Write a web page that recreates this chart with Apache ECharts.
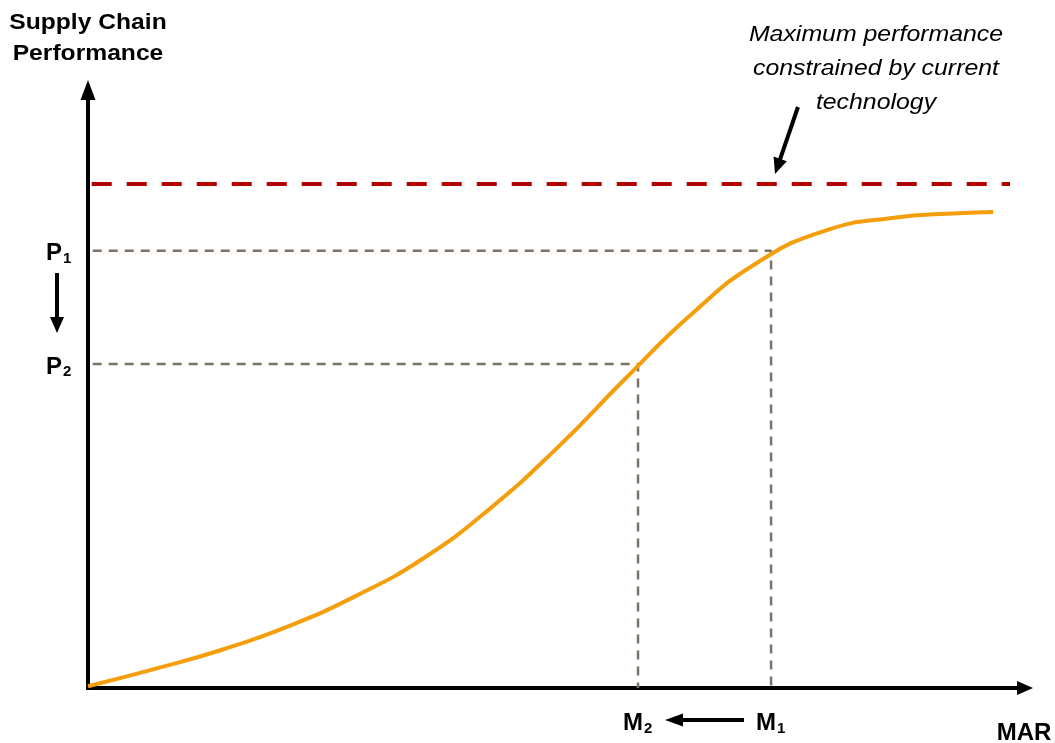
<!DOCTYPE html>
<html>
<head>
<meta charset="utf-8">
<script src="https://cdn.jsdelivr.net/npm/echarts@6/dist/echarts.min.js"></script>
<style>
html,body{margin:0;padding:0;background:#fff;}
#main{width:1055px;height:743px;}
</style>
</head>
<body>
<div id="main"></div>
<script>
// ---- data ----
const curveX = [0, 7.15, 14.3, 21.5, 28.6, 35.8, 42.9, 50.1, 57.2, 64.4, 71.5, 78.7, 85.8, 92.9, 96.6];
const curveY = [0.3, 3.2, 6.4, 10.4, 15.4, 21.7, 30.0, 40.2, 51.5, 62.5, 71.2, 76.5, 78.6, 79.4, 79.6];
const techMaxLevel = 84.3;
const techMaxRange = [0.4, 98.4];
const pLevels = [73.1, 54.2];      // P1, P2
const mLevels = [72.9, 58.7];      // M1, M2
const pNames = ['P', 'P'];
const mNames = ['M', 'M'];
const subs = ['1', '2'];
const yAxisTitle = ['Supply Chain', 'Performance'];
const xAxisTitle = 'MAR';
const noteText = ['Maximum performance', 'constrained by current', 'technology'];

const FONT = '"Liberation Sans", Arial, sans-serif';
const chart = echarts.init(document.getElementById('main'));

const guideStyle = {color: '#7d7366', width: 2.5, type: [9, 7]};
const guideSeries = [];
for (let i = 0; i < pLevels.length; i++) {
  guideSeries.push({
    type: 'line', symbol: 'none', silent: true, z: 1,
    lineStyle: guideStyle,
    data: [[0.5, pLevels[i]], [mLevels[i], pLevels[i]], [mLevels[i], 0]]
  });
}

const axisCommon = {
  type: 'value', min: 0, max: 100,
  splitLine: {show: false}, axisTick: {show: false}, axisLabel: {show: false}
};

chart.setOption({
  animation: false,
  grid: {left: 88, right: 30, top: 90, bottom: 55},
  xAxis: Object.assign({}, axisCommon, {
    axisLine: {lineStyle: {color: '#000', width: 4, cap: 'square'}, symbol: ['none', 'triangle'], symbolSize: [14, 16]}
  }),
  yAxis: Object.assign({}, axisCommon, {
    axisLine: {lineStyle: {color: '#000', width: 4, cap: 'square'}, symbol: ['none', 'triangle'], symbolSize: [15, 20]}
  }),
  series: guideSeries.concat([
    {
      type: 'line', symbol: 'none', silent: true, z: 2,
      lineStyle: {color: '#b00000', width: 4, type: [20, 15]},
      data: [[techMaxRange[0], techMaxLevel], [techMaxRange[1], techMaxLevel]]
    },
    {
      type: 'line', symbol: 'none', smooth: 0.5, silent: true, z: 3,
      lineStyle: {color: '#f59e0b', width: 4},
      data: curveX.map((x, i) => [x, curveY[i]])
    }
  ])
});

function arrow(x1, y1, x2, y2, w, headLen, headW) {
  const dx = x2 - x1, dy = y2 - y1, L = Math.sqrt(dx * dx + dy * dy);
  const ux = dx / L, uy = dy / L, nx = -uy, ny = ux;
  const bx = x2 - ux * headLen, by = y2 - uy * headLen;
  return [
    {type: 'line', shape: {x1: x1, y1: y1, x2: bx + ux, y2: by + uy}, style: {stroke: '#000', lineWidth: w}, silent: true},
    {type: 'polygon', shape: {points: [[x2, y2], [bx + nx * headW / 2, by + ny * headW / 2], [bx - nx * headW / 2, by - ny * headW / 2]]}, style: {fill: '#000'}, silent: true}
  ];
}

function txt(text, x, y, size, align, extra) {
  return Object.assign({
    type: 'text', x: x, y: y, silent: true,
    style: {text: text, font: 'bold ' + size + 'px ' + FONT, fill: '#000', align: align, verticalAlign: 'middle'}
  }, extra || {});
}

const els = [];
els.push({type: 'text', x: 88, y: 38, scaleX: 1.12, silent: true,
  style: {text: yAxisTitle.join('\n'), font: 'bold 22px ' + FONT, fill: '#000', align: 'center', verticalAlign: 'middle', lineHeight: 31}});
els.push(txt(xAxisTitle, 1024, 733, 24, 'center'));
els.push({type: 'text', x: 876, y: 68.5, scaleX: 1.13, silent: true,
  style: {text: noteText.join('\n'), font: 'italic 22px ' + FONT, fill: '#000', align: 'center', verticalAlign: 'middle', lineHeight: 34}});
Array.prototype.push.apply(els, arrow(798, 107, 775, 174, 4, 16, 14));

for (let i = 0; i < pLevels.length; i++) {
  const py = chart.convertToPixel({gridIndex: 0}, [0, pLevels[i]])[1];
  els.push(txt(pNames[i], 62, py + 3, 24, 'right'));
  els.push(txt(subs[i], 63, py + 8, 15, 'left'));
  const mx = chart.convertToPixel({gridIndex: 0}, [mLevels[i], 0])[0];
  els.push(txt(mNames[i], mx + 5, 723, 24, 'right'));
  els.push(txt(subs[i], mx + 6, 729, 15, 'left'));
}
Array.prototype.push.apply(els, arrow(57, 273, 57, 333, 4, 16, 14));
Array.prototype.push.apply(els, arrow(744, 720, 665, 720, 4, 18, 13));

chart.setOption({graphic: {elements: els}});
</script>
</body>
</html>
